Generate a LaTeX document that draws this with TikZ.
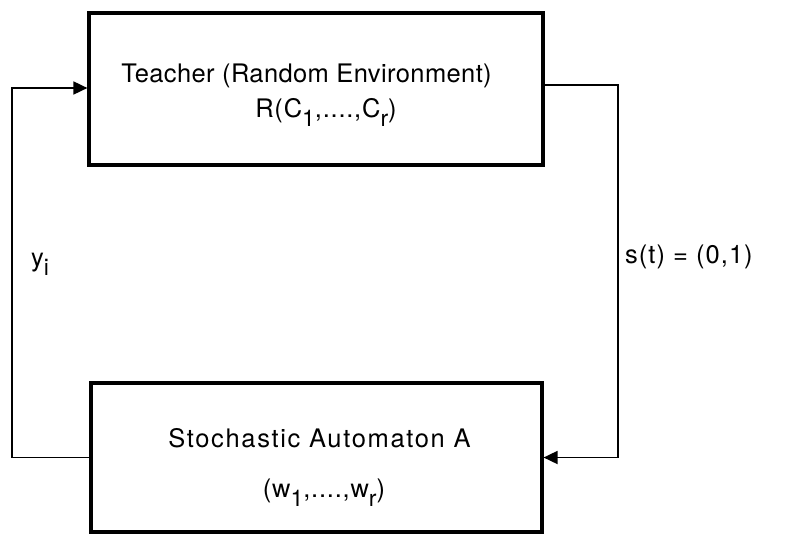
\documentclass[tikz,border=0pt]{standalone}
\usepackage{fontspec}
\setmainfont{TeX Gyre Heros}
\usetikzlibrary{arrows.meta}
\newcommand\dn[1]{\raisebox{-9pt}{\fontsize{23}{23}\selectfont #1}}
\newcommand\ls[1]{\addfontfeatures{LetterSpace=#1}}
\tikzset{
  blk/.style={draw, line width=3.2pt, minimum width=454pt, minimum height=152pt, inner sep=0pt},
  conn/.style={line width=1.8pt},
  arr/.style={conn, -{Triangle[length=14pt,width=13pt]}},
  lbl/.style={font=\fontsize{25.5}{25.5}\selectfont, inner sep=0pt, anchor=base}
}
\begin{document}
\begin{tikzpicture}[x=1pt,y=-1pt]
\useasboundingbox (0,0) rectangle (786,533);
\node[blk] (teacher) at (316,89) {};
\node[blk, minimum width=451pt, minimum height=149pt] (auto) at (316.5,457.5) {};
\node[lbl] (t1) at (306.5,82) {\ls{1.5}Teacher (Random Environment)};
\node[lbl] (t2) at (326,117) {\ls{3}R(C\dn{1},....,C\dn{r})};
\node[lbl] (a1) at (319.5,447) {\ls{6.5}Stochastic Automaton A};
\node[lbl] (a2) at (324,497) {\ls{3}(w\dn{1},....,w\dn{r})};
\coordinate (lb) at (12,457.5);
\coordinate (lt) at (12,88);
\coordinate (rt) at (618,85);
\coordinate (rb) at (618,457.5);
\draw[arr] (auto.west) -- (lb) -- (lt) -- (teacher.west |- lt);
\draw[arr] (teacher.east |- rt) -- (rt) -- (rb) -- (auto.east);
\node[lbl, anchor=base west] (yi) at (31,266) {\ls{3}y\dn{i}};
\node[lbl, anchor=base west] (st) at (625,263) {\ls{4}s(t) = (0,1)};
\end{tikzpicture}
\end{document}
